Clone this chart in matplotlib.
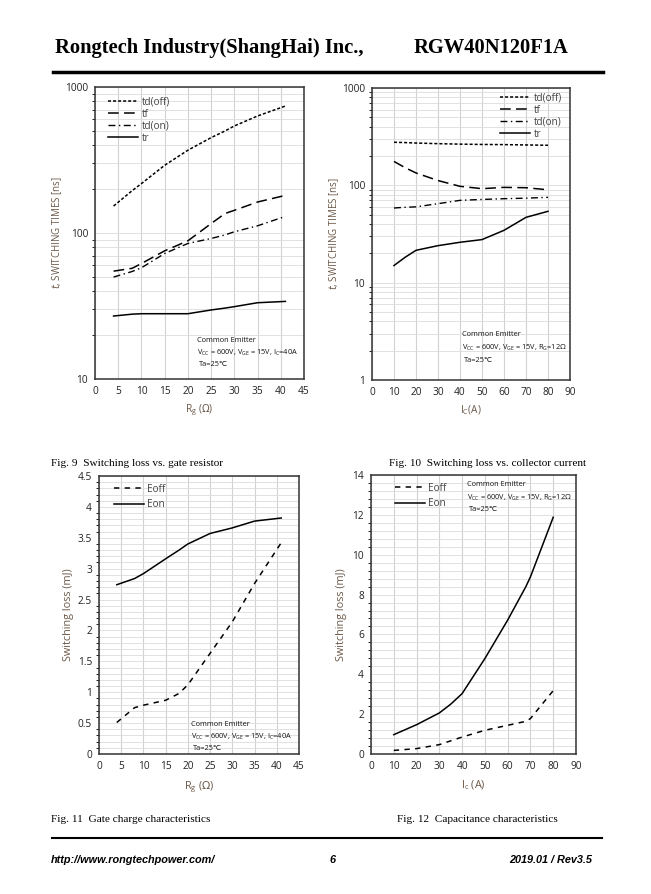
import matplotlib
matplotlib.use("Agg")
import matplotlib.pyplot as plt
from matplotlib.ticker import MultipleLocator, LogLocator, NullFormatter

W, H = 651, 894

# Fig. 7 - switching times vs gate resistor
rg = [4, 8, 10, 15, 20, 25, 28, 30, 35, 41]
rg_tdoff = [153, 195, 218, 291, 369, 450, 500, 541, 633, 741]
rg_tf = [54.8, 57.3, 61.8, 75.5, 88.4, 116, 136, 143, 163, 181]
rg_tdon = [49.9, 54.5, 57.8, 72.4, 84.8, 91.7, 97, 102, 112, 130]
rg_tr = [27.0, 27.8, 28.0, 28.0, 28.0, 29.7, 30.6, 31.3, 33.3, 34.0]

# Fig. 8 - switching times vs collector current
ic = [10, 15, 20, 30, 40, 50, 60, 70, 80]
ic_tdoff = [277, 275, 272, 268, 265, 263, 262, 260, 258]
ic_tf = [176, 152, 134, 112, 97.7, 92.4, 95.3, 94.5, 90]
ic_tdon = [58.5, 59.5, 60.1, 64.8, 70.1, 71.6, 72.9, 73.8, 75.3]
ic_tr = [15.0, 18.2, 21.5, 24.0, 26.0, 27.7, 34.5, 46.9, 54.1]

# Fig. 9 - switching loss vs gate resistor
rg_e = [4, 8, 10, 15, 18, 20, 25, 30, 35, 41]
rg_eoff = [0.51, 0.75, 0.79, 0.87, 0.98, 1.12, 1.63, 2.14, 2.76, 3.42]
rg_eon = [2.74, 2.84, 2.92, 3.16, 3.30, 3.40, 3.57, 3.66, 3.77, 3.82]

# Fig. 10 - switching loss vs collector current
ic_e = [10, 20, 30, 35, 40, 50, 60, 68, 70, 80]
ic_eon = [0.97, 1.47, 2.06, 2.50, 3.03, 4.79, 6.72, 8.40, 8.89, 11.88]
ic_eoff = [0.18, 0.27, 0.47, 0.66, 0.85, 1.19, 1.44, 1.64, 1.78, 3.18]

TXT = '#222222'
LBL = '#6b5848'
GRID = '#dcdcdc'
SANS = ['Open Sans', 'DejaVu Sans', 'Noto Sans CJK SC']

fig = plt.figure(figsize=(W / 100, H / 100), dpi=100, facecolor='white')


def rect(l, t, r, b):
    return [l / W, 1 - b / H, (r - l) / W, (b - t) / H]


def style_ax(ax):
    for s in ax.spines.values():
        s.set_color('#333333')
        s.set_linewidth(1.1)
    ax.tick_params(length=0, labelsize=7.3, colors=TXT, pad=5)
    for t in ax.get_xticklabels() + ax.get_yticklabels():
        t.set_family(SANS)
    ax.grid(True, which='major', axis='x', color='#d2d2d2', lw=0.8)
    ax.grid(True, which='both', axis='y', color=GRID, lw=0.6)
    ax.set_axisbelow(True)


def legend(ax, handles, loc_xy, spacing=0.12):
    leg = ax.legend(handles=handles, loc='upper left', bbox_to_anchor=loc_xy,
                    frameon=False, handlelength=3.0,
                    handletextpad=0.35, labelspacing=spacing, borderaxespad=0,
                    borderpad=0, prop={'family': SANS, 'size': 7.2})
    for t in leg.get_texts():
        t.set_color('#444444')


def note(ax, x, y, lines):
    ys = [y, y + 13, y + 25]
    for i, s in enumerate(lines):
        fig.text(x / W + (0.003 if i == 2 else 0), 1 - ys[i] / H, s, fontsize=5.3,
                 family=SANS, color='#111111', va='center')


ls_tdoff = (0, (2, 1.3))
ls_tf = (0, (7, 3.5))
ls_tdon = (0, (5, 2.5, 1, 2.5))
ls_eoff = (0, (3.5, 3.5))

# ---- top left
ax1 = fig.add_axes(rect(95, 87, 304, 379))
ax1.set_yscale('log')
ax1.set_xlim(0, 45)
ax1.set_ylim(10, 1000)
ax1.xaxis.set_major_locator(MultipleLocator(5))
ax1.yaxis.set_minor_locator(LogLocator(subs=range(2, 10)))
ax1.yaxis.set_minor_formatter(NullFormatter())
ax1.set_yticks([10, 100, 1000], ['10', '100', '1000'])
h = [ax1.plot(rg, rg_tdoff, color='k', lw=1.1, ls=ls_tdoff, label='td(off)')[0],
     ax1.plot(rg, rg_tf, color='k', lw=1.1, ls=ls_tf, label='tf')[0],
     ax1.plot(rg, rg_tdon, color='k', lw=1.0, ls=ls_tdon, label='td(on)')[0],
     ax1.plot(rg, rg_tr, color='k', lw=1.1, label='tr')[0]]
style_ax(ax1)
legend(ax1, h, (0.062, 0.968))
ax1.set_ylabel(r'$\mathit{t}$, SWITCHING TIMES [ns]', color=LBL, fontsize=7,
               family=SANS, labelpad=1)
ax1.set_xlabel(r'R$_\mathregular{g}$ ($\Omega$)', color=LBL, fontsize=7.3, family=SANS, labelpad=4)
note(ax1, 197, 340, ['Common Emitter',
                     r'V$_\mathregular{CC}$ = 600V, V$_\mathregular{GE}$ = 15V, I$_\mathregular{C}$=40A',
                     'Ta=25℃'])

# ---- top right
ax2 = fig.add_axes(rect(372, 88, 570, 380))
ax2.set_yscale('log')
ax2.set_xlim(0, 90)
ax2.set_ylim(1, 1000)
ax2.xaxis.set_major_locator(MultipleLocator(10))
ax2.yaxis.set_minor_locator(LogLocator(subs=range(2, 10)))
ax2.yaxis.set_minor_formatter(NullFormatter())
ax2.set_yticks([1, 10, 100, 1000], ['1', '10', '100', '1000'])
h = [ax2.plot(ic, ic_tdoff, color='k', lw=1.1, ls=ls_tdoff, label='td(off)')[0],
     ax2.plot(ic, ic_tf, color='k', lw=1.1, ls=ls_tf, label='tf')[0],
     ax2.plot(ic, ic_tdon, color='k', lw=1.0, ls=ls_tdon, label='td(on)')[0],
     ax2.plot(ic, ic_tr, color='k', lw=1.1, label='tr')[0]]
style_ax(ax2)
legend(ax2, h, (0.646, 0.985))
ax2.set_ylabel(r'$\mathit{t}$, SWITCHING TIMES [ns]', color=LBL, fontsize=7,
               family=SANS, labelpad=1)
ax2.set_xlabel(r'I$_\mathregular{C}$(A)', color=LBL, fontsize=7.3, family=SANS, labelpad=4)
note(ax2, 462, 335, ['Common Emitter',
                     r'V$_\mathregular{CC}$ = 600V, V$_\mathregular{GE}$ = 15V, R$_\mathregular{G}$=12Ω',
                     'Ta=25℃'])

# ---- bottom left
ax3 = fig.add_axes(rect(99, 476, 299, 754))
ax3.set_xlim(0, 45)
ax3.set_ylim(0, 4.5)
ax3.xaxis.set_major_locator(MultipleLocator(5))
ax3.yaxis.set_minor_locator(MultipleLocator(0.1))
ax3.set_yticks([0, 0.5, 1, 1.5, 2, 2.5, 3, 3.5, 4, 4.5],
               ['0', '0.5', '1', '1.5', '2', '2.5', '3', '3.5', '4', '4.5'])
h = [ax3.plot(rg_e, rg_eoff, color='k', lw=1.1, ls=ls_eoff, label='Eoff')[0],
     ax3.plot(rg_e, rg_eon, color='k', lw=1.1, label='Eon')[0]]
style_ax(ax3)
legend(ax3, h, (0.075, 0.972), spacing=0.45)
ax3.set_ylabel('Switching loss (mJ)', color=LBL, fontsize=7.8, family=SANS, labelpad=3)
ax3.set_xlabel(r'R$_\mathregular{g}$ ($\Omega$)', color=LBL, fontsize=7.8, family=SANS, labelpad=5)
note(ax3, 191, 724, ['Common Emitter',
                     r'V$_\mathregular{CC}$ = 600V, V$_\mathregular{GE}$ = 15V, I$_\mathregular{C}$=40A',
                     'Ta=25℃'])

# ---- bottom right
ax4 = fig.add_axes(rect(371, 475, 576, 754))
ax4.set_xlim(0, 90)
ax4.set_ylim(0, 14)
ax4.xaxis.set_major_locator(MultipleLocator(10))
ax4.yaxis.set_major_locator(MultipleLocator(2))
ax4.yaxis.set_minor_locator(MultipleLocator(0.4))
h = [ax4.plot(ic_e, ic_eoff, color='k', lw=1.1, ls=ls_eoff, label='Eoff')[0],
     ax4.plot(ic_e, ic_eon, color='k', lw=1.1, label='Eon')[0]]
style_ax(ax4)
legend(ax4, h, (0.117, 0.972), spacing=0.45)
ax4.set_ylabel('Switching loss (mJ)', color=LBL, fontsize=7.8, family=SANS, labelpad=4)
ax4.set_xlabel(r'I$_\mathregular{c}$ (A)', color=LBL, fontsize=7.8, family=SANS, labelpad=5)
note(ax4, 467, 485, ['Common Emitter',
                     r'V$_\mathregular{CC}$ = 600V, V$_\mathregular{GE}$ = 15V, R$_\mathregular{G}$=12Ω',
                     'Ta=25℃'])

# ---- page header / footer
fig.text(55 / W, 1 - 48 / H, 'Rongtech Industry(ShangHai) Inc.,', family='Liberation Serif',
         weight='bold', fontsize=14.8, va='center')
fig.text(414 / W, 1 - 48 / H, 'RGW40N120F1A', family='Liberation Serif',
         weight='bold', fontsize=14.8, va='center')
fig.add_artist(plt.Line2D([53 / W, 603 / W], [1 - 72 / H, 1 - 72 / H], color='k', lw=2.5))

fig.text(51 / W, 1 - 463 / H, 'Fig. 9  Switching loss vs. gate resistor', family='Liberation Serif',
         fontsize=8.1, va='center')
fig.text(389 / W, 1 - 463 / H, 'Fig. 10  Switching loss vs. collector current', family='Liberation Serif',
         fontsize=8.1, va='center')
fig.text(51 / W, 1 - 820 / H, 'Fig. 11  Gate charge characteristics', family='Liberation Serif',
         fontsize=8.1, va='center')
fig.text(397 / W, 1 - 820 / H, 'Fig. 12  Capacitance characteristics', family='Liberation Serif',
         fontsize=8.1, va='center')
fig.add_artist(plt.Line2D([52 / W, 602 / W], [1 - 838 / H, 1 - 838 / H], color='k', lw=1.5))

fig.text(51 / W, 1 - 860 / H, 'http://www.rongtechpower.com/', family='Liberation Sans',
         weight='bold', style='italic', fontsize=7.8, va='center')
fig.text(333 / W, 1 - 860 / H, '6', family='Liberation Sans',
         weight='bold', style='italic', fontsize=7.8, va='center', ha='center')
fig.text(592 / W, 1 - 860 / H, '2019.01 / Rev3.5', family='Liberation Sans',
         weight='bold', style='italic', fontsize=7.8, va='center', ha='right')

fig.savefig('out.png', dpi=100, facecolor='white')
